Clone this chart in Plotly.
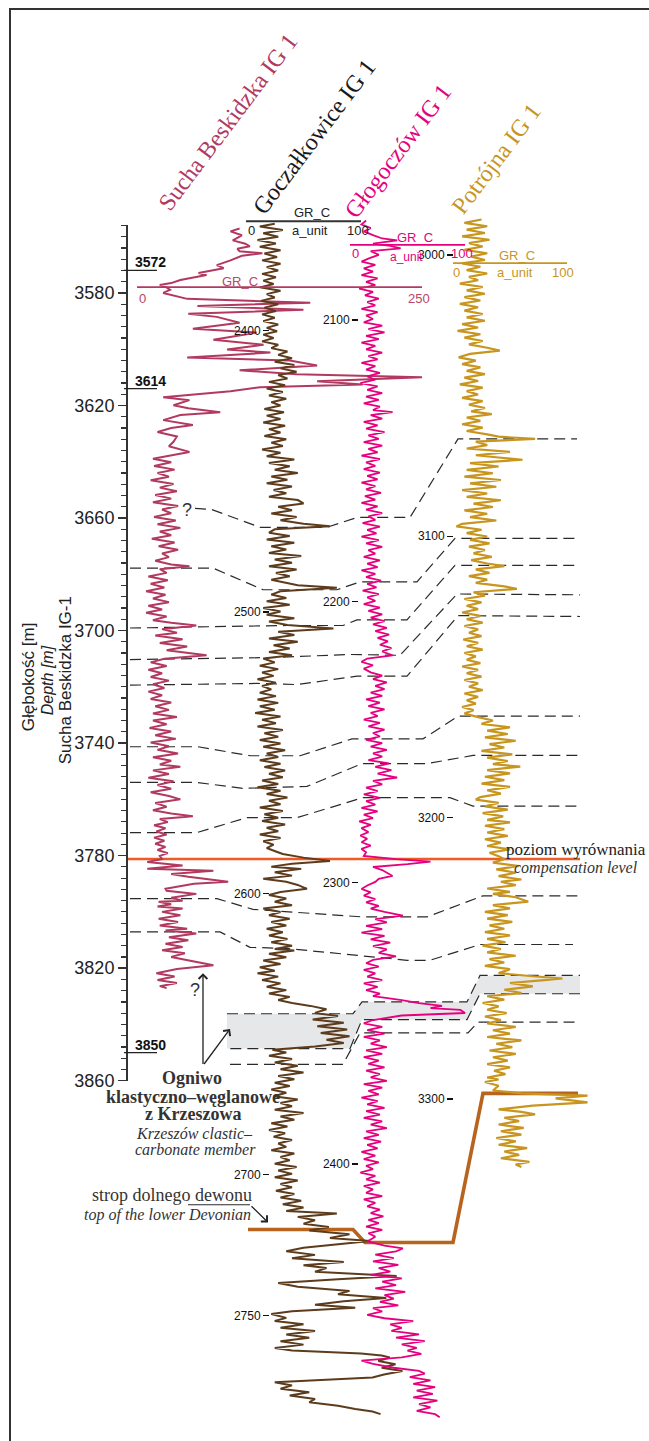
import plotly.graph_objects as go

W, H = 649, 1441
K = 2.833  # pixels per metre, common vertical scale of all logs

# ---------------- data: GR logs (depth [m], GR_C [a_unit]) ----------------
SUCHA_LOG = [
    (3557.1, 90), (3558.1, 82), (3559.5, 92), (3561.3, 84), (3562.5, 95), (3563.4, 99), (3564.3, 88),
    (3565.2, 90), (3565.9, 110), (3566.8, 92), (3568.4, 82), (3570.1, 70), (3571.2, 76), (3572.9, 54),
    (3573.6, 61), (3574.5, 48), (3575.4, 38), (3576.5, 30), (3577.2, 20), (3578.0, 26), (3578.9, 29),
    (3580.0, 23), (3581.1, 35), (3582.1, 44), (3583.5, 152), (3584.6, 53), (3586.0, 146), (3587.4, 45),
    (3588.5, 70), (3589.5, 79), (3590.6, 90), (3592.7, 49), (3594.1, 105), (3596.6, 67), (3598.4, 111),
    (3600.1, 79), (3601.2, 117), (3602.9, 44), (3604.0, 134), (3605.8, 158), (3607.5, 90), (3608.9, 140),
    (3610.0, 250), (3611.4, 158), (3612.5, 198), (3613.5, 108), (3614.9, 82), (3617.1, 23), (3618.1, 46),
    (3619.9, 32), (3621.0, 45), (3622.4, 73), (3623.4, 38), (3625.2, 23), (3626.9, 49), (3628.0, 30),
    (3629.4, 18), (3631.0, 35), (3632.9, 32), (3634.5, 28), (3636.5, 46), (3638.9, 14),
    (3640.2, 30), (3641.5, 15), (3642.8, 33), (3644.0, 18), (3645.3, 28), (3646.6, 12), (3647.9, 32),
    (3649.2, 20), (3650.5, 35), (3651.8, 16), (3653.1, 30), (3654.4, 14), (3655.7, 36), (3657.0, 22),
    (3658.3, 30), (3659.6, 15), (3660.9, 34), (3662.2, 18), (3663.5, 38), (3664.8, 20), (3666.1, 30),
    (3667.4, 13), (3668.7, 33), (3670.0, 19), (3671.3, 36), (3672.6, 22), (3673.9, 28), (3675.2, 16),
    (3676.5, 30), (3677.1, 46), (3678.2, 20), (3679.5, 26), (3680.8, 10), (3682.1, 27), (3683.4, 12),
    (3684.7, 24), (3686.0, 8), (3687.3, 25), (3688.6, 14), (3689.9, 28), (3691.2, 10), (3692.5, 22),
    (3693.7, 8), (3695.0, 26), (3696.3, 14), (3697.2, 30), (3698.2, 52), (3699.5, 22), (3700.8, 35),
    (3701.8, 16), (3703.1, 40), (3704.4, 20), (3705.7, 44), (3707.0, 26), (3708.8, 61), (3710.0, 24),
    (3711.3, 12), (3712.6, 26), (3713.9, 10), (3715.2, 22), (3716.5, 12), (3717.8, 28), (3719.1, 14),
    (3720.4, 24), (3721.7, 10), (3723.0, 22), (3724.3, 12), (3725.6, 30), (3726.9, 16), (3728.2, 28),
    (3729.5, 14), (3730.7, 35), (3732.0, 14), (3733.3, 26), (3734.6, 11), (3735.9, 30), (3737.2, 16),
    (3738.5, 34), (3739.8, 12), (3741.1, 28), (3742.4, 18), (3743.7, 36), (3745.0, 14), (3746.3, 30),
    (3747.6, 20), (3748.4, 38), (3749.7, 14), (3751.0, 28), (3752.3, 10), (3753.6, 32), (3754.9, 18),
    (3756.2, 30), (3757.5, 12), (3758.8, 28), (3760.0, 38), (3761.3, 16), (3762.6, 26), (3763.9, 14),
    (3765.0, 30), (3766.0, 49), (3767.0, 20), (3768.1, 27), (3769.2, 15), (3770.3, 25), (3771.4, 17),
    (3772.5, 26), (3773.6, 15), (3774.7, 24), (3775.8, 16), (3776.9, 25), (3778.0, 18), (3779.1, 27),
    (3780.1, 20), (3781.2, 22),
    (3782.3, 9), (3783.5, 40), (3784.7, 9), (3785.4, 67), (3786.5, 30), (3787.5, 45), (3789.3, 80),
    (3790.0, 50), (3791.8, 25), (3792.5, 26), (3793.6, 52), (3795.0, 30), (3796.0, 40), (3796.4, 19),
    (3797.3, 30), (3798.1, 18), (3798.8, 40), (3800.0, 22), (3801.2, 38), (3802.4, 19), (3803.6, 36),
    (3804.8, 20), (3806.0, 44), (3806.6, 25), (3807.7, 52), (3809.0, 28), (3810.1, 45), (3811.3, 25),
    (3812.5, 40), (3813.6, 22), (3814.7, 42), (3816.0, 30), (3817.5, 50), (3819.0, 67), (3820.3, 35),
    (3821.8, 17), (3823.0, 33), (3824.2, 18), (3825.3, 35), (3826.4, 20), (3827.1, 26),
]

GOCZ_LOG = [
    (2362.0, 25), (2363.0, 12), (2364.2, 32), (2365.4, 15), (2366.6, 28), (2367.8, 10), (2369.0, 26),
    (2370.2, 12), (2371.4, 30), (2372.6, 16), (2373.8, 27), (2375.0, 14), (2376.2, 30), (2377.4, 18),
    (2378.6, 28), (2379.8, 14), (2381.0, 26), (2382.2, 15), (2383.4, 24), (2384.6, 12), (2385.8, 30),
    (2387.0, 18), (2388.2, 25), (2389.4, 13), (2390.6, 28), (2391.8, 16), (2393.0, 26), (2394.2, 14),
    (2395.4, 25), (2396.6, 15), (2397.8, 28), (2399.0, 18), (2400.2, 27), (2401.4, 15), (2402.6, 24),
    (2403.8, 14), (2405.0, 28), (2406.2, 22), (2407.4, 36), (2408.6, 28), (2409.8, 40), (2411.0, 25),
    (2412.2, 42), (2413.4, 30), (2414.6, 44), (2415.8, 28), (2417.0, 36), (2418.2, 20), (2419.4, 34),
    (2420.6, 18), (2421.8, 32), (2423.0, 20), (2424.2, 35), (2425.4, 22), (2426.6, 30), (2427.8, 16),
    (2429.0, 33), (2430.2, 18), (2431.4, 30), (2432.6, 15), (2433.8, 34), (2435.0, 20), (2436.2, 30),
    (2437.4, 16), (2438.6, 35), (2439.8, 22), (2441.0, 32), (2442.2, 14), (2443.4, 30), (2444.6, 18),
    (2445.8, 42), (2447.0, 20), (2448.2, 38), (2449.4, 25), (2450.6, 45), (2451.8, 22), (2453.0, 36),
    (2454.2, 18), (2455.4, 40), (2456.6, 24), (2457.8, 35), (2459.0, 20), (2460.2, 45), (2461.4, 50),
    (2462.6, 28), (2463.8, 40), (2465.0, 22), (2466.2, 44), (2467.4, 30), (2468.6, 50), (2469.5, 73),
    (2470.6, 25), (2471.8, 20), (2473.0, 38), (2474.2, 18), (2475.4, 42), (2476.6, 22), (2477.8, 35),
    (2479.0, 20), (2480.1, 48), (2481.3, 25), (2482.5, 40), (2483.7, 20), (2484.9, 44), (2486.1, 26),
    (2487.3, 38), (2488.5, 22), (2489.7, 36), (2490.5, 45), (2491.4, 79), (2492.6, 30), (2493.8, 22),
    (2495.0, 35), (2496.2, 18), (2497.4, 38), (2498.6, 15), (2499.8, 30), (2501.0, 18), (2502.2, 42),
    (2503.4, 20), (2504.6, 36), (2505.9, 76), (2507.0, 28), (2508.2, 42), (2509.4, 20), (2510.6, 45),
    (2511.8, 24), (2513.0, 38), (2514.2, 20), (2515.4, 40), (2516.5, 15), (2517.9, 25), (2519.1, 12),
    (2520.3, 28), (2521.5, 14), (2522.7, 24), (2523.9, 10), (2525.1, 26), (2526.3, 14), (2527.5, 22),
    (2528.7, 12), (2529.9, 26), (2531.1, 10), (2532.3, 28), (2533.5, 12), (2534.7, 25), (2535.9, 8),
    (2537.1, 30), (2538.3, 14), (2539.5, 26), (2540.7, 10), (2541.9, 32), (2543.1, 16), (2544.3, 28),
    (2545.5, 12), (2546.7, 30), (2547.9, 15), (2549.1, 34), (2550.3, 18), (2551.5, 28), (2552.7, 12),
    (2553.9, 30), (2555.1, 16), (2556.3, 34), (2557.5, 20), (2558.7, 32), (2559.9, 14), (2561.1, 28),
    (2562.3, 10), (2563.5, 30), (2564.7, 18), (2565.9, 36), (2567.1, 20), (2568.3, 30), (2569.5, 12),
    (2570.7, 32), (2571.9, 16), (2573.1, 28), (2574.3, 14), (2575.5, 34), (2576.7, 18), (2577.9, 28),
    (2579.1, 12), (2580.3, 30), (2581.5, 15), (2582.7, 24), (2583.9, 18), (2585.1, 26), (2586.0, 32),
    (2587.3, 50), (2588.5, 73), (2589.5, 40), (2590.5, 22), (2591.3, 48), (2592.5, 25), (2593.7, 40),
    (2594.8, 15), (2595.9, 35), (2597.0, 45), (2598.4, 53), (2599.5, 30), (2600.6, 20), (2601.8, 35),
    (2603.0, 25), (2604.2, 40), (2605.4, 15), (2606.6, 30), (2607.8, 20), (2609.0, 38), (2610.2, 22),
    (2611.4, 35), (2612.6, 18), (2613.8, 32), (2615.0, 20), (2616.2, 36), (2617.4, 22), (2618.6, 40),
    (2619.8, 25), (2620.3, 42), (2621.5, 20), (2622.7, 35), (2623.9, 15), (2625.1, 30), (2626.3, 12),
    (2627.5, 25), (2628.4, 10), (2629.6, 28), (2630.8, 14), (2632.0, 30), (2633.2, 18), (2634.4, 35),
    (2635.6, 20), (2636.8, 38), (2637.9, 28), (2639.0, 40), (2640.0, 56), (2641.2, 70), (2642.5, 60),
    (2643.6, 80), (2644.8, 58), (2646.0, 85), (2647.2, 62), (2648.4, 88), (2649.6, 65), (2650.8, 90),
    (2652.0, 70), (2653.2, 85), (2654.4, 60), (2655.6, 23), (2656.6, 35), (2657.7, 20), (2658.9, 40),
    (2660.1, 25), (2661.3, 45), (2662.5, 30), (2663.7, 50), (2664.9, 28), (2666.1, 42), (2667.3, 25),
    (2668.5, 38), (2669.7, 22), (2670.9, 35), (2672.1, 24), (2673.3, 45), (2674.5, 30), (2675.7, 40),
    (2676.9, 25), (2678.1, 50), (2679.3, 30), (2680.5, 42), (2681.7, 22), (2682.9, 36), (2684.1, 20),
    (2685.3, 34), (2686.5, 24), (2687.7, 40), (2688.9, 28), (2690.1, 35), (2691.3, 22), (2692.5, 42),
    (2693.7, 30), (2694.9, 38), (2696.1, 25), (2697.3, 44), (2698.5, 28), (2699.7, 40), (2700.9, 25),
    (2702.1, 45), (2703.3, 30), (2704.5, 40), (2705.7, 26), (2706.9, 42), (2708.1, 30), (2709.3, 48),
    (2710.5, 32), (2711.7, 50), (2712.9, 35), (2713.8, 79), (2715.0, 45), (2716.2, 60), (2717.4, 50),
    (2718.6, 72), (2719.8, 55), (2721.2, 90), (2722.5, 73), (2723.6, 108), (2724.7, 80), (2726.0, 50),
    (2727.2, 35), (2728.5, 60), (2729.7, 40), (2731.0, 85), (2732.2, 50), (2733.2, 70), (2734.5, 60),
    (2736.0, 131), (2737.2, 80), (2738.5, 28), (2739.8, 45), (2741.3, 90), (2742.5, 80), (2743.8, 122),
    (2745.0, 85), (2746.2, 60), (2747.3, 95), (2748.5, 40), (2749.5, 22), (2750.9, 35), (2752.0, 25),
    (2753.2, 50), (2754.4, 30), (2755.6, 60), (2756.8, 35), (2758.0, 55), (2759.2, 30), (2760.4, 50),
    (2761.6, 25), (2762.5, 40), (2763.6, 100), (2764.3, 118), (2765.0, 125), (2766.2, 115), (2767.4, 130),
    (2768.6, 118), (2769.8, 136), (2771.0, 120), (2772.1, 110), (2773.0, 60), (2773.8, 25), (2774.9, 40),
    (2776.1, 30), (2777.3, 55), (2778.5, 38), (2779.7, 60), (2780.9, 55), (2782.1, 80), (2783.3, 95),
    (2784.2, 110), (2785.1, 117),
]

GLOG_LOG = [
    (2064.6, 14), (2066.0, 10), (2067.3, 18), (2068.5, 12), (2069.8, 20), (2071.0, 28), (2071.7, 41),
    (2072.8, 20), (2073.6, 35), (2074.5, 44), (2075.5, 18), (2076.8, 25), (2078.0, 17), (2079.2, 10),
    (2080.4, 22), (2081.6, 12), (2082.8, 20), (2084.0, 10), (2085.2, 24), (2086.4, 14), (2087.6, 22),
    (2088.8, 8), (2090.0, 20), (2091.2, 13), (2092.4, 25), (2093.6, 15), (2094.8, 22), (2096.0, 10),
    (2097.2, 24), (2098.4, 14), (2099.6, 20), (2100.8, 12), (2102.0, 28), (2103.2, 16), (2104.4, 30),
    (2105.6, 14), (2106.8, 25), (2108.0, 10), (2109.2, 22), (2110.4, 14), (2111.6, 28), (2112.8, 16),
    (2114.0, 24), (2115.2, 10), (2116.4, 22), (2117.6, 14), (2118.8, 26), (2120.0, 15), (2121.2, 22),
    (2122.4, 9), (2123.6, 24), (2124.8, 15), (2126.0, 28), (2127.2, 14), (2128.4, 25), (2129.6, 12),
    (2130.8, 26), (2132.0, 20), (2132.7, 37), (2133.8, 18), (2135.0, 28), (2136.2, 12), (2137.4, 24),
    (2138.6, 14), (2139.8, 30), (2141.0, 16), (2142.2, 25), (2143.4, 12), (2144.6, 28), (2145.8, 16),
    (2147.0, 24), (2148.2, 10), (2149.4, 26), (2150.6, 14), (2151.8, 22), (2153.0, 12), (2154.2, 26),
    (2155.4, 15), (2156.6, 24), (2157.8, 10), (2159.0, 22), (2160.2, 14), (2161.4, 27), (2162.6, 13),
    (2163.8, 22), (2165.0, 10), (2166.2, 24), (2167.4, 14), (2168.6, 28), (2169.8, 16), (2171.0, 22),
    (2172.2, 11), (2173.4, 26), (2174.6, 15), (2175.8, 23), (2177.0, 10), (2178.2, 25), (2179.4, 14),
    (2180.6, 28), (2181.8, 16), (2183.0, 22), (2184.2, 12), (2185.4, 26), (2186.6, 15), (2187.8, 24),
    (2189.0, 10), (2190.2, 22), (2191.4, 14), (2192.6, 27), (2193.8, 15), (2195.0, 23), (2196.2, 11),
    (2197.4, 25), (2198.6, 15), (2199.8, 22), (2201.0, 12), (2202.2, 26), (2203.4, 16), (2204.6, 28),
    (2205.8, 18), (2207.0, 30), (2208.2, 20), (2209.4, 32), (2210.6, 22), (2211.8, 34), (2213.0, 24),
    (2214.2, 33), (2215.4, 26), (2216.6, 36), (2217.8, 28), (2219.2, 37), (2220.3, 15), (2221.5, 10),
    (2222.7, 20), (2223.9, 12), (2225.2, 18), (2226.4, 28), (2227.6, 20), (2228.8, 32), (2230.0, 22),
    (2231.2, 30), (2232.4, 18), (2233.6, 28), (2234.8, 14), (2236.0, 26), (2237.2, 16), (2238.4, 30),
    (2239.6, 18), (2240.8, 24), (2242.0, 12), (2243.2, 26), (2244.4, 16), (2245.6, 30), (2246.8, 20),
    (2248.0, 26), (2249.2, 14), (2250.4, 28), (2251.6, 18), (2252.8, 32), (2254.0, 20), (2255.2, 28),
    (2256.4, 16), (2257.6, 34), (2258.8, 22), (2260.0, 36), (2261.2, 24), (2262.6, 41), (2263.8, 20),
    (2265.0, 28), (2266.2, 14), (2267.4, 24), (2268.6, 12), (2269.8, 26), (2271.0, 14), (2272.2, 22),
    (2273.4, 10), (2274.6, 24), (2275.8, 12), (2277.0, 20), (2278.2, 8), (2279.4, 18), (2280.6, 10),
    (2282.0, 16), (2283.2, 9), (2284.4, 15), (2285.6, 10), (2286.8, 18), (2288.0, 10), (2289.2, 14),
    (2290.5, 12), (2291.6, 40), (2292.5, 70), (2293.4, 50), (2294.4, 20), (2295.5, 28), (2296.5, 32),
    (2297.6, 37), (2298.6, 25), (2299.7, 22), (2301.0, 15), (2302.2, 10), (2303.4, 18), (2304.6, 12),
    (2305.8, 22), (2307.0, 14), (2308.2, 25), (2309.2, 18), (2310.4, 30), (2311.7, 46), (2312.9, 22),
    (2314.1, 32), (2315.3, 14), (2316.5, 28), (2317.7, 10), (2318.9, 30), (2320.1, 18), (2321.3, 35),
    (2322.5, 20), (2323.7, 32), (2324.9, 25), (2326.2, 40), (2327.4, 20), (2328.6, 14), (2329.8, 25),
    (2331.0, 12), (2332.2, 22), (2333.4, 15), (2334.6, 28), (2335.8, 12), (2337.0, 24), (2338.2, 14),
    (2339.4, 26), (2340.3, 20), (2341.7, 45), (2342.8, 60), (2343.8, 80), (2344.6, 70), (2345.2, 96),
    (2346.3, 100), (2347.2, 45), (2348.8, 20), (2350.0, 12), (2351.2, 28), (2352.4, 15), (2353.6, 30),
    (2354.8, 12), (2356.0, 26), (2357.2, 18), (2358.4, 32), (2359.6, 14), (2360.8, 28), (2362.0, 12),
    (2363.2, 25), (2364.4, 16), (2365.6, 30), (2366.8, 14), (2368.0, 26), (2369.2, 18), (2370.4, 32),
    (2371.6, 12), (2372.8, 28), (2374.0, 16), (2375.2, 25), (2376.4, 10), (2377.6, 24), (2378.8, 15),
    (2380.0, 30), (2381.2, 14), (2382.4, 26), (2383.6, 12), (2384.8, 28), (2386.0, 18), (2387.2, 32),
    (2388.4, 14), (2389.6, 25), (2390.8, 12), (2392.0, 27), (2393.2, 15), (2394.4, 24), (2395.7, 10),
    (2397.0, 22), (2398.2, 12), (2399.4, 25), (2400.6, 14), (2401.8, 20), (2403.0, 9), (2404.2, 22),
    (2405.4, 14), (2406.6, 26), (2407.8, 12), (2409.0, 20), (2410.2, 14), (2411.4, 28), (2412.6, 12),
    (2413.8, 22), (2415.0, 15), (2416.2, 26), (2417.4, 18), (2418.6, 29), (2419.8, 16), (2421.0, 25),
    (2422.2, 14), (2423.4, 28), (2424.6, 16), (2425.8, 22), (2427.5, 15), (2429.0, 30), (2430.0, 46),
    (2431.0, 40), (2432.2, 22), (2433.4, 38), (2434.6, 20), (2435.8, 42), (2437.0, 25), (2438.2, 35),
    (2439.4, 18), (2440.6, 45), (2441.8, 28), (2443.0, 40), (2444.2, 22), (2445.4, 48), (2446.6, 30),
    (2447.8, 38), (2449.0, 26), (2450.2, 42), (2451.2, 20), (2452.4, 28), (2453.6, 15), (2454.8, 30),
    (2455.8, 55), (2457.0, 35), (2458.2, 45), (2459.3, 36), (2460.5, 60), (2461.7, 40), (2462.9, 65),
    (2464.1, 45), (2465.3, 58), (2466.3, 50), (2467.5, 62), (2468.7, 45), (2469.9, 10), (2471.0, 20),
    (2472.4, 38), (2473.5, 60), (2474.5, 65), (2475.7, 52), (2476.9, 70), (2478.1, 55), (2479.3, 74),
    (2480.5, 58), (2481.7, 72), (2482.9, 55), (2484.1, 76), (2485.3, 60), (2486.5, 70), (2487.7, 58),
    (2488.9, 74), (2490.0, 78),
]

POTR_LOG = [
    (2987.4, 25), (2988.6, 10), (2989.8, 30), (2991.0, 12), (2992.2, 28), (2993.4, 8), (2994.6, 32),
    (2995.8, 14), (2997.0, 26), (2998.2, 10), (2999.4, 30), (3000.6, 16), (3001.8, 28), (3003.0, 8),
    (3004.2, 24), (3005.4, 12), (3006.6, 30), (3007.8, 14), (3009.0, 22), (3010.2, 6), (3011.4, 26),
    (3012.6, 12), (3013.8, 28), (3015.0, 10), (3016.2, 24), (3017.4, 6), (3018.6, 22), (3019.8, 10),
    (3021.0, 26), (3022.2, 12), (3023.4, 28), (3024.6, 8), (3025.8, 22), (3027.0, 4), (3028.2, 24),
    (3029.4, 10), (3030.6, 26), (3031.8, 14), (3033.0, 30), (3034.0, 41), (3035.2, 15), (3036.4, 5),
    (3037.6, 20), (3038.8, 8), (3040.0, 24), (3041.2, 12), (3042.4, 28), (3043.6, 10), (3044.8, 22),
    (3046.0, 6), (3047.2, 26), (3048.4, 12), (3049.6, 22), (3050.8, 8), (3052.0, 26), (3053.2, 14),
    (3054.4, 28), (3055.6, 16), (3056.6, 34), (3057.8, 12), (3059.0, 24), (3060.2, 8), (3061.4, 26),
    (3062.6, 12), (3063.8, 30), (3064.6, 40), (3065.4, 72), (3066.4, 20), (3067.6, 30), (3068.8, 12),
    (3070.0, 50), (3071.2, 20), (3072.0, 40), (3072.8, 61), (3074.0, 15), (3075.2, 40), (3076.4, 12),
    (3077.6, 35), (3078.8, 10), (3080.0, 42), (3081.2, 15), (3082.4, 38), (3083.6, 8), (3084.8, 30),
    (3086.0, 12), (3087.2, 42), (3088.4, 18), (3089.6, 35), (3090.8, 10), (3092.0, 30), (3093.2, 15),
    (3094.4, 38), (3095.6, 8), (3096.5, 3), (3097.7, 25), (3098.9, 12), (3100.1, 30), (3101.3, 15),
    (3102.5, 32), (3103.7, 14), (3104.9, 28), (3106.1, 18), (3107.3, 34), (3108.5, 16), (3109.7, 30),
    (3110.6, 45), (3111.8, 20), (3113.0, 32), (3114.2, 14), (3115.4, 30), (3116.6, 20), (3117.8, 45),
    (3118.7, 56), (3119.9, 18), (3121.1, 28), (3122.3, 10), (3123.5, 25), (3124.7, 12), (3125.9, 22),
    (3127.1, 8), (3128.3, 24), (3129.5, 12), (3130.7, 26), (3131.9, 10), (3133.1, 22), (3134.3, 14),
    (3135.5, 25), (3136.7, 9), (3137.9, 22), (3139.1, 12), (3140.3, 26), (3141.5, 10), (3142.7, 20),
    (3143.9, 12), (3145.1, 24), (3146.3, 8), (3147.5, 22), (3148.7, 12), (3149.9, 25), (3151.1, 10),
    (3152.3, 22), (3153.5, 14), (3154.7, 26), (3155.9, 10), (3157.1, 22), (3158.3, 12), (3159.5, 20),
    (3160.7, 8), (3161.8, 18), (3163.0, 10), (3164.3, 22), (3165.5, 35), (3166.7, 25), (3167.9, 50),
    (3169.1, 30), (3170.3, 48), (3171.5, 28), (3172.7, 55), (3173.9, 32), (3175.1, 45), (3176.3, 25),
    (3177.5, 52), (3178.7, 30), (3179.9, 48), (3181.0, 35), (3181.9, 59), (3183.1, 30), (3184.3, 50),
    (3185.5, 28), (3186.7, 45), (3187.9, 25), (3189.1, 50), (3190.3, 30), (3191.5, 42), (3192.7, 24),
    (3193.6, 20), (3194.8, 40), (3196.0, 28), (3197.2, 48), (3198.4, 26), (3199.6, 44), (3200.8, 30),
    (3201.7, 50), (3202.9, 28), (3204.1, 45), (3205.3, 30), (3206.5, 48), (3207.7, 28), (3208.9, 42),
    (3210.1, 30), (3211.3, 50), (3212.5, 32), (3213.7, 40), (3214.8, 45), (3216.0, 35), (3217.2, 58),
    (3218.4, 38), (3219.6, 55), (3220.8, 40), (3222.0, 60), (3222.8, 42), (3224.0, 55), (3225.2, 30),
    (3226.4, 50), (3227.1, 35), (3228.3, 55), (3229.9, 66), (3231.1, 35), (3232.3, 50), (3233.5, 28),
    (3234.7, 48), (3235.9, 30), (3237.1, 52), (3238.3, 32), (3239.5, 45), (3240.7, 28), (3241.9, 50),
    (3243.1, 30), (3244.3, 46), (3245.5, 26), (3246.7, 42), (3247.9, 30), (3249.1, 55), (3250.3, 32),
    (3251.5, 45), (3252.7, 28), (3253.9, 50), (3255.3, 40), (3256.4, 70), (3257.2, 96), (3257.8, 80),
    (3258.8, 50), (3260.0, 70), (3261.2, 45), (3262.4, 60), (3263.5, 30), (3264.7, 45), (3265.9, 26),
    (3267.1, 40), (3268.3, 30), (3269.5, 47), (3270.7, 28), (3272.0, 42), (3273.2, 30), (3274.4, 55),
    (3275.6, 35), (3276.8, 50), (3278.0, 30), (3279.2, 60), (3280.4, 38), (3281.6, 52), (3282.8, 32),
    (3284.0, 55), (3285.2, 35), (3286.4, 48), (3287.6, 30), (3288.8, 50), (3290.0, 36), (3291.2, 46),
    (3292.4, 30), (3293.1, 40), (3294.0, 28), (3295.3, 40), (3297.0, 35), (3298.0, 60), (3298.8, 118),
    (3299.8, 90), (3300.5, 105), (3301.2, 118), (3302.4, 70), (3303.7, 40), (3304.6, 60), (3305.5, 72),
    (3306.7, 45), (3307.9, 58), (3309.1, 40), (3310.3, 62), (3311.5, 42), (3312.7, 60), (3313.9, 38),
    (3315.1, 55), (3316.3, 40), (3317.5, 65), (3318.7, 45), (3319.9, 58), (3321.1, 42), (3322.4, 67),
    (3323.3, 55), (3324.2, 60),
]

WELL_NAMES = ["Sucha Beskidzka IG 1", "Goczałkowice IG 1", "Głogoczów IG 1", "Potrójna IG 1"]
SUCHA_MARKERS = [3572, 3614, 3850]
GOCZ_TICKS = [2400, 2500, 2600, 2700, 2750]
GLOG_TICKS = [2100, 2200, 2300, 2400]
POTR_TICKS = [3000, 3100, 3200, 3300]
SUCHA_GR_MAX = 250
GR_MAX = 100

# correlation surfaces: (track position across the panel, Sucha-equivalent depth)
CORR_LINES = [
    [(195, 3656.6), (212, 3657.0), (260, 3663.3), (327, 3663.3), (357, 3659.8), (410, 3659.8), (458, 3631.9), (577, 3631.9)],
    [(130, 3677.8), (213, 3677.8), (263, 3685.5), (337, 3685.5), (360, 3682.7), (417, 3682.7), (455, 3667.2), (577, 3667.2)],
    [(130, 3699.1), (287, 3698.2), (343, 3698.2), (357, 3696.2), (407, 3696.2), (455, 3676.8), (580, 3676.8)],
    [(130, 3710.3), (270, 3709.6), (350, 3708.5), (400, 3708.8), (457, 3687.0), (580, 3687.3)],
    [(130, 3719.4), (257, 3718.8), (297, 3719.2), (357, 3716.2), (407, 3716.2), (458, 3694.7), (580, 3695.0)],
    [(130, 3741.3), (198, 3741.3), (250, 3744.5), (300, 3744.5), (352, 3738.5), (423, 3738.5), (458, 3730.4), (580, 3730.4)],
    [(130, 3754.0), (197, 3754.0), (243, 3756.1), (307, 3755.4), (362, 3747.3), (427, 3747.3), (473, 3744.4), (580, 3744.4)],
    [(130, 3771.8), (197, 3771.8), (247, 3766.5), (297, 3766.5), (363, 3759.4), (450, 3759.4), (473, 3762.4), (580, 3762.4)],
    [(130, 3795.3), (217, 3795.3), (253, 3799.1), (363, 3801.8), (427, 3801.8), (483, 3794.3), (580, 3794.3)],
    [(130, 3807.1), (220, 3807.1), (250, 3812.6), (287, 3813.0), (407, 3817.2), (430, 3817.2), (480, 3811.6), (573, 3811.6)],
    [(230, 3854.2), (343, 3854.2), (360, 3843.0), (468, 3843.0), (478, 3839.2), (577, 3839.2)],
]
BAND_TOP = [(227, 3836.2), (353, 3836.2), (362, 3832.0), (467, 3832.0), (480, 3822.6), (580, 3822.6)]
BAND_BOTTOM = [(580, 3829.1), (480, 3829.1), (467, 3838.3), (362, 3838.3), (350, 3848.6), (227, 3848.6)]
COMP_LEVEL = [(128, 3781.2), (580, 3781.2)]
DEVONIAN_TOP = [(248, 3912.9), (353, 3912.9), (365, 3917.5), (453, 3917.5), (483, 3864.5), (578, 3864.5)]

# ---------------- styling ----------------
NARROW = "Liberation Sans Narrow, Arial Narrow, Liberation Sans, Arial, sans-serif"
SERIF = "Liberation Serif, Times New Roman, DejaVu Serif, serif"
C_SUCHA, C_GOCZ, C_GLOG, C_POTR = "#B2395F", "#5C3C1C", "#E6007E", "#C8951F"
C_DARK = "#2a2a2a"


def depth_range(ref_depth, ref_row):
    top = ref_depth - ref_row / K
    return [top + H / K, top]


def gr_range(px0, px_full, full):
    ppu = (px_full - px0) / full
    lo = -px0 / ppu
    return [lo, lo + W / ppu]


def unzip(pairs):
    return [p[0] for p in pairs], [p[1] for p in pairs]


fig = go.Figure()

# grey band (Krzeszów member)
bx, by = unzip(BAND_TOP + BAND_BOTTOM)
fig.add_trace(go.Scatter(x=bx, y=by, fill="toself", fillcolor="#E6E7E8", mode="lines",
                         line=dict(width=0), xaxis="x", yaxis="y", hoverinfo="skip"))
for edge in (BAND_TOP, BAND_BOTTOM):
    ex, ey = unzip(edge)
    fig.add_trace(go.Scatter(x=ex, y=ey, mode="lines", line=dict(color=C_DARK, width=1.2, dash="11px,6px"),
                             xaxis="x", yaxis="y", hoverinfo="skip"))

for ln in CORR_LINES:
    lx, ly = unzip(ln)
    fig.add_trace(go.Scatter(x=lx, y=ly, mode="lines", line=dict(color=C_DARK, width=1.2, dash="11px,6px"),
                             xaxis="x", yaxis="y", hoverinfo="skip"))

cx, cy = unzip(COMP_LEVEL)
fig.add_trace(go.Scatter(x=cx, y=cy, mode="lines", line=dict(color="#F15A24", width=2.6),
                         xaxis="x", yaxis="y", hoverinfo="skip"))
dx_, dy_ = unzip(DEVONIAN_TOP)
fig.add_trace(go.Scatter(x=dx_, y=dy_, mode="lines", line=dict(color="#B8641E", width=3.6),
                         xaxis="x", yaxis="y", hoverinfo="skip"))

# pointer line for "strop dolnego dewonu"
fig.add_trace(go.Scatter(x=[188, 250], y=[3904.1, 3904.1], mode="lines", line=dict(color=C_DARK, width=1.2),
                         xaxis="x", yaxis="y", hoverinfo="skip"))

# GR logs
for log, color, xa, ya, w in [
    (SUCHA_LOG, C_SUCHA, "x2", "y2", 2.0),
    (GOCZ_LOG, C_GOCZ, "x3", "y3", 2.0),
    (GLOG_LOG, C_GLOG, "x4", "y4", 1.8),
    (POTR_LOG, C_POTR, "x5", "y5", 2.2),
]:
    d, g = unzip(log)
    fig.add_trace(go.Scatter(x=g, y=d, mode="lines", line=dict(color=color, width=w),
                             xaxis=xa, yaxis=ya, hoverinfo="skip"))

# ---------------- axes ----------------
hidden = dict(visible=False, showgrid=False, zeroline=False, fixedrange=True)
y2_top, y2_bot = 3556, 3860
dom2 = [1 - (295 + (y2_bot - 3580) * K) / H, 1 - (295 + (y2_top - 3580) * K) / H]

small_tick = dict(showline=False, ticks="outside", ticklen=6, tickwidth=1.2, tickcolor="#111",
                  showgrid=False, zeroline=False, tickfont=dict(family=NARROW, size=12, color="#111"),
                  anchor="free", side="left", domain=[0, 1], tickmode="array", fixedrange=True)

fig.update_layout(
    width=W, height=H, margin=dict(l=0, r=0, t=0, b=0),
    paper_bgcolor="white", plot_bgcolor="rgba(0,0,0,0)", showlegend=False,
    xaxis=dict(range=[0, W], domain=[0, 1], anchor="y", **hidden),
    yaxis=dict(range=depth_range(3580, 295), domain=[0, 1], anchor="x", **hidden),
    xaxis2=dict(range=gr_range(137, 422, SUCHA_GR_MAX), domain=[0, 1], anchor="y2", **hidden),
    yaxis2=dict(range=[y2_bot, y2_top], domain=dom2, anchor="free", position=126 / W, side="left",
                showline=True, linecolor="#333", linewidth=1.5, ticks="outside", ticklen=8, tickwidth=1.5,
                tickcolor="#333", tick0=3580, dtick=40, showgrid=False, zeroline=False, fixedrange=True,
                tickfont=dict(family=NARROW, size=18, color="#222"),
                minor=dict(dtick=4, tick0=3580, ticks="outside", ticklen=5, tickwidth=1.2, tickcolor="#333",
                           showgrid=False)),
    xaxis3=dict(range=gr_range(246, 361, GR_MAX), domain=[0, 1], anchor="y3", **hidden),
    yaxis3=dict(range=depth_range(2400, 333), position=269 / W, tickvals=GOCZ_TICKS, **small_tick),
    xaxis4=dict(range=gr_range(350, 465, GR_MAX), domain=[0, 1], anchor="y4", **hidden),
    yaxis4=dict(range=depth_range(2100, 322.3), position=358 / W, tickvals=GLOG_TICKS, **small_tick),
    xaxis5=dict(range=gr_range(453, 567, GR_MAX), domain=[0, 1], anchor="y5", **hidden),
    yaxis5=dict(range=depth_range(3000, 256.7), position=453 / W, tickvals=POTR_TICKS, **small_tick),
)

shapes = []
ann = []


def txt(x, y, text, xref="x", yref="y", size=12, color=C_DARK, family=NARROW, xanchor="center",
        yanchor="middle", angle=0, yshift=0):
    ann.append(dict(x=x, y=y, xref=xref, yref=yref, text=text, showarrow=False, xanchor=xanchor,
                    yanchor=yanchor, textangle=angle, yshift=yshift,
                    font=dict(family=family, size=size, color=color)))


# frame (top and left edges visible)
shapes.append(dict(type="rect", xref="paper", yref="paper", x0=10 / W, x1=1.02, y0=-0.01, y1=1 - 9 / H,
                   line=dict(color="#333", width=2), layer="below"))

# Sucha marker depths (bold, underlined)
for m in SUCHA_MARKERS:
    shapes.append(dict(type="line", xref="x", yref="y2", x0=124, x1=157, y0=m, y1=m,
                       line=dict(color="#222", width=1.3)))
    txt(133, m, "<b>%d</b>" % m, yref="y2", size=14, color="#111", xanchor="left", yshift=8)

# GR scale bars
scales = [
    ("x2", "y2", SUCHA_GR_MAX, 3577.9, 3576.1, 3581.8, 90.4, 4.4, 247, None, C_SUCHA, "#B84468"),
    ("x3", "y3", GR_MAX, 2361.1, 2358.0, 2364.3, 57, 4.6, 97, 56, "#333", "#222"),
    ("x4", "y4", GR_MAX, 2073.3, 2070.6, 2076.2, 56.5, 5.2, 97.8, 48.7, C_GLOG, C_GLOG),
    ("x5", "y5", GR_MAX, 3002.9, 3000.1, 3006.1, 56.1, 3.5, 96.9, 54.4, C_POTR, C_POTR),
]
for xa, ya, full, ybar, ylab, ylow, xgr, x0l, xfl, xunit, lc, tc in scales:
    shapes.append(dict(type="line", xref=xa, yref=ya, x0=0, x1=full, y0=ybar, y1=ybar,
                       line=dict(color=lc, width=1.8)))
    txt(xgr, ylab, "GR_C", xref=xa, yref=ya, size=13, color=tc)
    txt(x0l, ylow, "0", xref=xa, yref=ya, size=13, color=tc)
    txt(xfl, ylow, str(full), xref=xa, yref=ya, size=13, color=tc)
    if xunit is not None:
        yu = ylow + (1.5 if xa == "x4" else 0)
        txt(xunit, yu, "a_unit", xref=xa, yref=ya, size=13 if xa != "x4" else 12, color=tc)

# well titles
for name, (px, py), col in zip(WELL_NAMES, [(228, 123), (314, 138), (398, 152), (496, 160)],
                               [C_SUCHA, "#1a1a1a", C_GLOG, C_POTR]):
    txt(px / W, 1 - py / H, name, xref="paper", yref="paper", size=24, color=col, family=SERIF, angle=-53)

# vertical axis title
txt(28 / W, 1 - 682 / H, "Głębokość [m]", xref="paper", yref="paper", size=17, color="#222", angle=-90)
txt(47 / W, 1 - 685 / H, "<i>Depth [m]</i>", xref="paper", yref="paper", size=16, color="#222", angle=-90)
txt(65 / W, 1 - 685 / H, "Sucha Beskidzka IG-1", xref="paper", yref="paper", size=17, color="#222", angle=-90)

# question marks
txt(187, 3657.0, "?", size=18, color="#333")
txt(195, 3827.8, "?", size=18, color="#333")

# member label
txt(192, 3859.2, "<b>Ogniwo</b>", size=18, color="#333", family=SERIF)
txt(193, 3865.9, "<b>klastyczno–węglanowe</b>", size=18, color="#333", family=SERIF)
txt(193, 3871.9, "<b>z Krzeszowa</b>", size=18, color="#333", family=SERIF)
txt(194, 3878.6, "<i>Krzeszów clastic–</i>", size=16, color="#333", family=SERIF)
txt(195, 3884.3, "<i>carbonate member</i>", size=16, color="#333", family=SERIF)

# compensation level
txt(648, 3777.7, "poziom wyrównania", size=17, color="#222", family=SERIF, xanchor="right")
txt(640, 3784.4, "<i>compensation level</i>", size=16, color="#333", family=SERIF, xanchor="right")

# lower Devonian
txt(254, 3900.5, "strop dolnego dewonu", size=18, color="#333", family=SERIF, xanchor="right")
txt(253, 3907.6, "<i>top of the lower Devonian</i>", size=16, color="#333", family=SERIF, xanchor="right")

# arrows
for (hx, hy), (tx, ty) in [((203, 3821.8), (203, 3854.6)), ((230, 3841.6), (203, 3854.6)),
                           ((268, 3910.4), (250, 3904.1))]:
    ann.append(dict(x=hx, y=hy, ax=tx, ay=ty, xref="x", yref="y", axref="x", ayref="y", text="",
                    showarrow=True, arrowhead=4, arrowsize=1.3, arrowwidth=1.3, arrowcolor="#222"))

fig.update_layout(shapes=shapes, annotations=ann, hovermode=False, dragmode=False)
fig.write_html("out.html", config={"displayModeBar": False, "staticPlot": True},
               post_script="document.body.style.margin='0';document.body.style.overflow='hidden';")
